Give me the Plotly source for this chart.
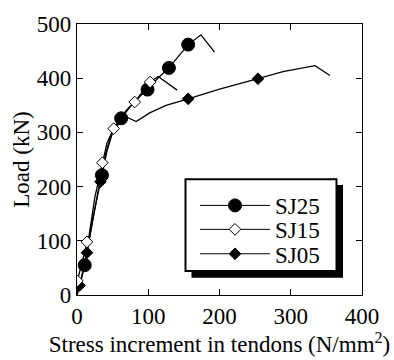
import plotly.graph_objects as go

# Load vs. stress increment curves (N/mm^2, kN)
sj25_x = [0, 4, 10.8, 20, 30, 35, 42, 50, 62, 75, 88, 99, 112, 129, 143, 156, 174, 193]
sj25_y = [0, 18, 55, 125, 195, 221, 265, 300, 326, 348, 366, 379, 398, 419, 441, 462, 480, 448]
sj25_mx = [10.8, 35, 62, 99, 129, 156]
sj25_my = [55, 221, 326, 379, 419, 462]

sj15_x = [0, 0.5, 7, 14, 17, 25, 35.6, 42, 51.5, 60, 70, 81, 92, 102.6, 114, 140.5]
sj15_y = [0, 26, 60, 98, 110, 180, 244, 280, 307, 325, 342, 356, 375, 393, 403, 378]
sj15_mx = [0.5, 14, 35.6, 51.5, 81, 102.6]
sj15_my = [26, 98, 244, 307, 356, 393]

sj05_x = [0, 3.7, 14, 22, 33, 40, 48, 58, 70, 83, 102, 125, 156, 200, 254, 289, 334, 355]
sj05_y = [0, 17.7, 78, 140, 209, 260, 295, 315, 328, 320, 336, 350, 362, 380, 399, 412, 423, 405]
sj05_mx = [3.7, 14, 33, 156, 254]
sj05_my = [17.7, 78, 209, 362, 399]

x_ticks = [0, 100, 200, 300, 400]
y_ticks = [0, 100, 200, 300, 400, 500]

FONT = "Liberation Serif, Times New Roman, serif"

# plot-area geometry (pixels)
L, T, PW, PH = 77, 22, 285, 283


def px(p):
    return (p - L) / PW


def py(p):
    return (T + PH - p) / PH


circle = dict(symbol="circle", size=13, color="black", line=dict(color="black", width=1))
open_dia = dict(symbol="diamond", size=9, color="white", line=dict(color="black", width=1))
full_dia = dict(symbol="diamond", size=9, color="black", line=dict(color="black", width=1))

series = [
    ("SJ05", sj05_x, sj05_y, sj05_mx, sj05_my, full_dia),
    ("SJ25", sj25_x, sj25_y, sj25_mx, sj25_my, circle),
    ("SJ15", sj15_x, sj15_y, sj15_mx, sj15_my, open_dia),
]

fig = go.Figure()
for name, x, y, mx, my, mk in series:
    fig.add_trace(go.Scatter(x=x, y=y, mode="lines", line=dict(color="black", width=1.3),
                             showlegend=False, hoverinfo="skip"))
    fig.add_trace(go.Scatter(x=mx, y=my, mode="markers", marker=mk, showlegend=False, name=name))

# one legend per entry, so each row sits at its own height
legend_rows = [("SJ25", circle, "legend", 211.5),
               ("SJ15", open_dia, "legend2", 236.5),
               ("SJ05", full_dia, "legend3", 262)]
for name, mk, lg, _ in legend_rows:
    fig.add_trace(go.Scatter(x=[None], y=[None], mode="lines+markers", name=name, legend=lg,
                             line=dict(color="black", width=1), marker=mk))

# legend frame with drop shadow
fig.add_shape(type="rect", xref="paper", yref="paper",
              x0=px(191.5), x1=px(343), y0=py(287), y1=py(190),
              fillcolor="black", line=dict(width=0), layer="above")
fig.add_shape(type="rect", xref="paper", yref="paper",
              x0=px(185.5), x1=px(336.5), y0=py(280), y1=py(184),
              fillcolor="white", line=dict(color="black", width=2), layer="above")

axis_common = dict(showline=True, linecolor="black", linewidth=1.3, mirror="ticks",
                   ticks="inside", ticklen=6, tickwidth=1, tickcolor="black",
                   showgrid=False, zeroline=False,
                   tickfont=dict(family=FONT, size=23, color="black"))

legend_style = dict(xanchor="left", yanchor="middle", bgcolor="rgba(0,0,0,0)",
                    borderwidth=0, itemwidth=70,
                    font=dict(family=FONT, size=23, color="black"))
legends = {}
for name, mk, lg, row_y in legend_rows:
    legends[lg] = dict(x=px(195), y=py(row_y), **legend_style)

fig.update_layout(
    width=394, height=360,
    margin=dict(l=L, r=394 - L - PW, t=T, b=360 - T - PH),
    paper_bgcolor="white", plot_bgcolor="white",
    font=dict(family=FONT, color="black"),
    xaxis=dict(range=[0, 400], tickvals=x_ticks, **axis_common,
               title=dict(text="Stress increment in tendons (N/mm<sup>2</sup>)",
                          font=dict(family=FONT, size=23, color="black"), standoff=3)),
    yaxis=dict(range=[0, 500], tickvals=y_ticks, **axis_common,
               title=dict(text="Load (kN)", font=dict(family=FONT, size=23, color="black"),
                          standoff=0)),
    **legends,
)

fig.write_html("out.html")
